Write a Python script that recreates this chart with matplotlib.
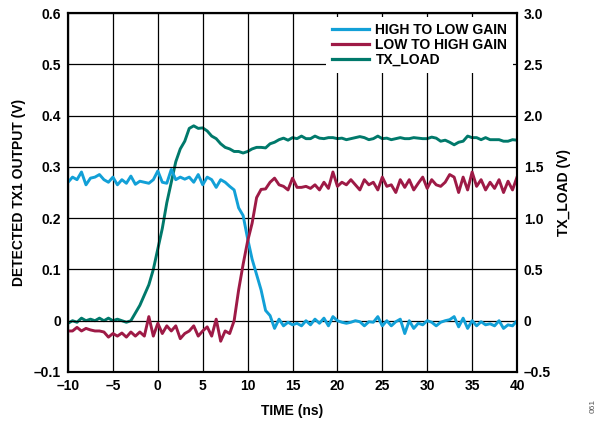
import numpy as np
import matplotlib
matplotlib.use("Agg")
import matplotlib.pyplot as plt
from matplotlib.ticker import FuncFormatter

plt.rcParams['font.family'] = ['Liberation Sans', 'DejaVu Sans']
plt.rcParams['font.weight'] = 'bold'

# time grid (ns)
time_ns = np.arange(-10, 40.5, 0.5)

# detected TX1 output, high-to-low gain step (V)
high_to_low = [
    0.27, 0.28, 0.275, 0.29, 0.265, 0.278, 0.28, 0.285, 0.275, 0.27,
    0.28, 0.265, 0.275, 0.268, 0.282, 0.266, 0.272, 0.27, 0.268, 0.275,
    0.292, 0.27, 0.268, 0.295, 0.275, 0.28, 0.276, 0.28, 0.27, 0.285,
    0.265, 0.28, 0.275, 0.26, 0.275, 0.27, 0.262, 0.255, 0.22, 0.205,
    0.16, 0.12, 0.09, 0.06, 0.02, 0.01, -0.015, 0.003, -0.01, -0.003,
    -0.008, -0.005, -0.01, 0.0, -0.008, 0.003, -0.005, 0.005, -0.01, 0.008,
    0.0, -0.003, -0.005, -0.003, 0.0, -0.002, -0.01, -0.002, -0.003, 0.008,
    -0.01, 0.0, -0.01, -0.002, 0.003, -0.025, 0.0, -0.015, -0.005, -0.008,
    0.0, -0.003, -0.01, -0.003, 0.0, 0.002, 0.008, -0.012, 0.005, -0.015,
    0.0, -0.01, -0.002, -0.008, -0.006, -0.01, 0.0, -0.015, -0.008, -0.01,
    0.0,
]

# detected TX1 output, low-to-high gain step (V)
low_to_high = [
    -0.02, -0.02, -0.013, -0.02, -0.015, -0.018, -0.02, -0.02, -0.022, -0.032,
    -0.025, -0.03, -0.024, -0.032, -0.022, -0.03, -0.022, -0.03, 0.008, -0.03,
    -0.005, -0.025, -0.01, -0.02, -0.01, -0.035, -0.025, -0.02, -0.01, -0.03,
    -0.02, -0.012, -0.03, 0.003, -0.04, -0.02, -0.025, 0.0, 0.06, 0.11,
    0.155, 0.19, 0.24, 0.256, 0.257, 0.27, 0.278, 0.265, 0.262, 0.255,
    0.278, 0.26, 0.26, 0.262, 0.258, 0.265, 0.255, 0.27, 0.258, 0.29,
    0.262, 0.27, 0.265, 0.275, 0.265, 0.255, 0.275, 0.265, 0.27, 0.255,
    0.28, 0.262, 0.265, 0.25, 0.275, 0.26, 0.275, 0.255, 0.268, 0.28,
    0.258, 0.275, 0.265, 0.262, 0.27, 0.285, 0.28, 0.25, 0.28, 0.255,
    0.29, 0.262, 0.275, 0.255, 0.27, 0.258, 0.275, 0.25, 0.272, 0.255,
    0.28,
]

# TX_LOAD signal (V, right axis)
tx_load = [
    -0.025, 0.0, -0.015, 0.025, 0.0, 0.015, 0.0, 0.025, 0.0, 0.025,
    0.0, 0.015, 0.0, -0.015, 0.0, 0.075, 0.15, 0.25, 0.35, 0.5,
    0.7, 0.9, 1.15, 1.35, 1.55, 1.675, 1.75, 1.875, 1.9, 1.875,
    1.88, 1.85, 1.8, 1.775, 1.725, 1.69, 1.675, 1.65, 1.65, 1.635,
    1.65, 1.675, 1.69, 1.69, 1.685, 1.725, 1.74, 1.765, 1.78, 1.76,
    1.785, 1.775, 1.8, 1.775, 1.775, 1.8, 1.78, 1.775, 1.785, 1.785,
    1.775, 1.78, 1.765, 1.775, 1.785, 1.795, 1.785, 1.765, 1.775, 1.8,
    1.775, 1.78, 1.765, 1.775, 1.785, 1.775, 1.775, 1.785, 1.78, 1.775,
    1.775, 1.79, 1.78, 1.75, 1.76, 1.74, 1.715, 1.74, 1.75, 1.8,
    1.785, 1.785, 1.765, 1.785, 1.765, 1.765, 1.765, 1.75, 1.75, 1.765,
    1.76,
]

x_ticks = [-10, -5, 0, 5, 10, 15, 20, 25, 30, 35, 40]
left_ticks = [-0.1, 0, 0.1, 0.2, 0.3, 0.4, 0.5, 0.6]
right_ticks = [-0.5, 0, 0.5, 1.0, 1.5, 2.0, 2.5, 3.0]

c_blue = '#12A0D7'
c_red = '#9E1A46'
c_teal = '#00796B'
fs = 10


def y_fmt(v, pos):
    if abs(v) < 1e-9:
        return '0'
    return f'{v:.1f}'.replace('-', '\u2013')


fig = plt.figure(figsize=(6.03, 4.21), dpi=100)
ax = fig.add_axes([0.1128, 0.1164, 0.7446, 0.8527])
ax2 = ax.twinx()

l1, = ax.plot(time_ns, high_to_low, color=c_blue, lw=2.1, label='HIGH TO LOW GAIN')
l2, = ax.plot(time_ns, low_to_high, color=c_red, lw=2.1, label='LOW TO HIGH GAIN')
l3, = ax2.plot(time_ns, tx_load, color=c_teal, lw=2.1, label='TX_LOAD')

ax.set_xlim(-10, 40)
ax.set_ylim(-0.1, 0.6)
ax2.set_ylim(-0.5, 3.0)
ax.set_xticks(x_ticks)
ax.set_yticks(left_ticks)
ax2.set_yticks(right_ticks)
ax.xaxis.set_major_formatter(FuncFormatter(lambda v, p: f'{v:g}'.replace('-', '\u2013')))
ax.yaxis.set_major_formatter(FuncFormatter(y_fmt))
ax2.yaxis.set_major_formatter(FuncFormatter(y_fmt))

ax.grid(True, color='black', lw=0.9)
ax.set_axisbelow(True)
for a in (ax, ax2):
    a.tick_params(length=0, labelsize=fs, pad=5)
    for sp in a.spines.values():
        sp.set_linewidth(1.5)

ax.set_xlabel('TIME (ns)', fontsize=fs, fontweight='bold', labelpad=8)
ax.set_ylabel('DETECTED TX1 OUTPUT (V)', fontsize=fs, fontweight='bold', labelpad=6)
ax2.set_ylabel('TX_LOAD (V)', fontsize=fs, fontweight='bold', labelpad=4)

leg = ax.legend(handles=[l1, l2, l3], loc='upper right', frameon=True,
                fontsize=fs, handlelength=2.7, handletextpad=0.45,
                labelspacing=0.08, borderaxespad=0.3, borderpad=0.4)
leg.get_frame().set_facecolor('white')
leg.get_frame().set_edgecolor('none')
leg.get_frame().set_alpha(1)
for line in leg.get_lines():
    line.set_linewidth(2.3)
ax.set_zorder(ax2.get_zorder() + 1)
ax.patch.set_visible(False)

fig.text(0.984, 0.035, '061', rotation=90, fontsize=6, color='#555555',
         fontweight='normal', ha='center', va='center')

fig.savefig('out.png', dpi=100)
